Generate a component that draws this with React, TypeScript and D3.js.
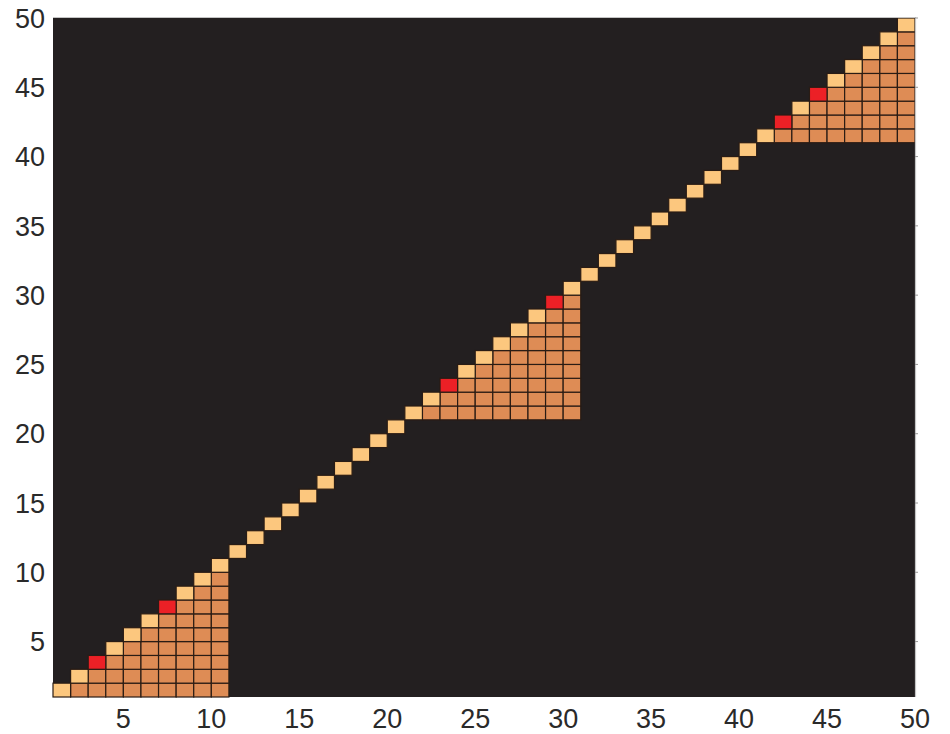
import React from "react";
import * as d3 from "d3";

// ---- data ----
const axisDomain: [number, number] = [1, 50];
const xTicks = [5, 10, 15, 20, 25, 30, 35, 40, 45, 50];
const yTicks = [5, 10, 15, 20, 25, 30, 35, 40, 45, 50];
const diagonalCells = d3.range(1, 50); // 1..49
const redDiagonal = [3, 7, 23, 29, 42, 44];
const blocks: [number, number][] = [
  [1, 10],
  [21, 30],
  [41, 49],
];

const COLORS = {
  bg: "#231F20",
  light: "#FCC77E",
  orange: "#DE8C55",
  red: "#EC2026",
  edge: "#2a1c14",
  frame: "#c4c4c4",
  text: "#2a2a2a",
};

type Cell = { col: number; row: number; kind: "light" | "orange" | "red" };

function buildCells(): Cell[] {
  const cells: Cell[] = [];
  blocks.forEach(([a, b]) => {
    for (let c = a; c <= b; c++) {
      for (let r = a; r < c; r++) cells.push({ col: c, row: r, kind: "orange" });
    }
  });
  diagonalCells.forEach((i) =>
    cells.push({ col: i, row: i, kind: redDiagonal.includes(i) ? "red" : "light" })
  );
  return cells;
}

export default function App() {
  const W = 950;
  const H = 734;
  const left = 53,
    right = 915,
    top = 18,
    bottom = 697;
  const x = d3.scaleLinear().domain(axisDomain).range([left, right]);
  const y = d3.scaleLinear().domain(axisDomain).range([bottom, top]);
  const cells = buildCells();
  const fs = 27;

  return (
    <svg
      width={W}
      height={H}
      style={{ position: "absolute", left: 0, top: 0, background: "#fff" }}
      fontFamily="'Liberation Sans', Arial, sans-serif"
    >
      <rect x={left} y={top} width={right - left} height={bottom - top} fill={COLORS.bg} />
      {cells.map((d, i) => (
        <rect
          key={i}
          x={x(d.col)}
          y={y(d.row + 1)}
          width={x(d.col + 1) - x(d.col)}
          height={y(d.row) - y(d.row + 1)}
          fill={COLORS[d.kind]}
          stroke={COLORS.edge}
          strokeWidth={1.2}
        />
      ))}
      {/* frame */}
      <line x1={left} x2={right + 1} y1={top - 0.5} y2={top - 0.5} stroke={COLORS.frame} strokeWidth={1.2} />
      <line x1={right + 0.5} x2={right + 0.5} y1={top - 1} y2={bottom} stroke={COLORS.frame} strokeWidth={1.2} />
      {/* right ticks */}
      {yTicks.map((t) => (
        <line key={"rt" + t} x1={right} x2={right + 3} y1={y(t)} y2={y(t)} stroke="#999" strokeWidth={1} />
      ))}
      {/* labels */}
      {xTicks.map((t) => (
        <text
          key={"x" + t}
          x={x(t)}
          y={728}
          textAnchor="middle"
          fontSize={fs}
          fill={COLORS.text}
        >
          {t}
        </text>
      ))}
      {yTicks.map((t) => (
        <text
          key={"y" + t}
          x={45}
          y={y(t) + fs * 0.358}
          textAnchor="end"
          fontSize={fs}
          fill={COLORS.text}
        >
          {t}
        </text>
      ))}
    </svg>
  );
}
